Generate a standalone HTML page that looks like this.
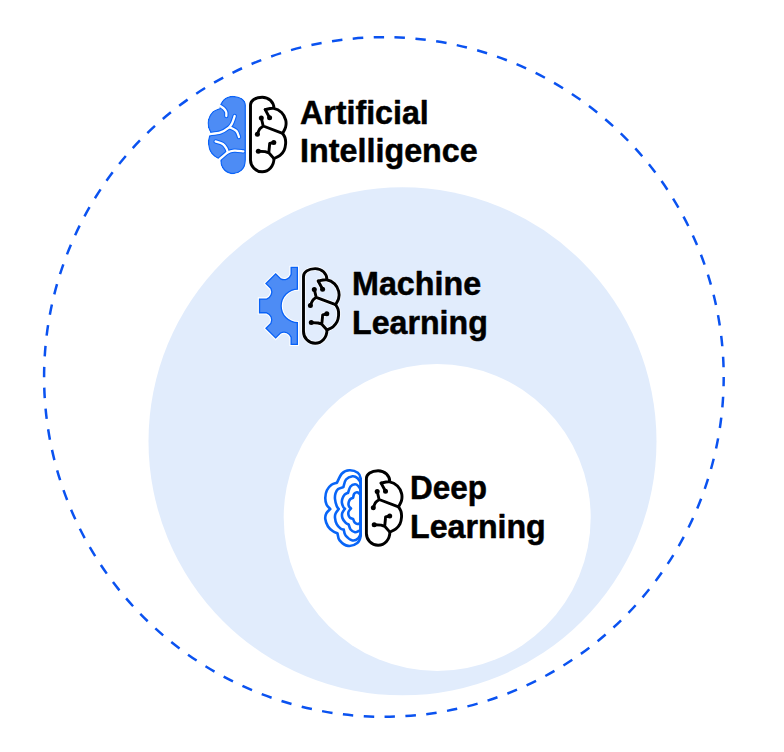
<!DOCTYPE html>
<html><head><meta charset="utf-8"><style>
html,body{margin:0;padding:0;background:#fff;width:784px;height:752px;overflow:hidden}
svg{display:block}
text{font-family:'Liberation Sans',sans-serif;font-weight:bold;font-size:33.3px;fill:#000;stroke:#000;stroke-width:0.5px;stroke-linejoin:round}
</style></head><body>
<svg width="784" height="752" viewBox="0 0 784 752">
<rect width="784" height="752" fill="#fff"/>
<circle cx="402.5" cy="441.3" r="254" fill="#e1ecfc"/>
<circle cx="437.2" cy="517.5" r="153.5" fill="#fff"/>
<circle cx="383.9" cy="377" r="339.8" fill="none" stroke="#0a52f0" stroke-width="2.5" stroke-dasharray="10.47 10.47" stroke-dashoffset="1.1"/>
<mask id="mAI" maskUnits="userSpaceOnUse" x="0" y="0" width="784" height="752"><path transform="translate(495.00 0) scale(-1 1)" d="M250.50 160.00 L250.50 105.00 C250.5 100.6 255.3 97.2 262.2 97.2 C268.6 97.2 273.8 101.6 274.0 109.0 C275.27 109.58 279.65 110.67 281.60 112.50 C283.55 114.33 285.03 117.55 285.70 120.00 C286.37 122.45 286.12 124.98 285.60 127.20 C285.08 129.42 283.10 132.28 282.60 133.30 C283.02 134.08 284.60 136.22 285.10 138.00 C285.60 139.78 285.77 141.95 285.60 144.00 C285.43 146.05 285.03 148.40 284.10 150.30 C283.17 152.20 281.68 154.02 280.00 155.40 C278.32 156.78 275.00 158.07 274.00 158.60 L272.85 158.7 A11.3 11.3 0 1 1 250.6 161.5 Z" fill="#fff" stroke="#fff" stroke-width="2.90" stroke-linejoin="round"/></mask><g mask="url(#mAI)"><path transform="translate(495.00 0) scale(-1 1)" d="M250.50 160.00 L250.50 105.00 C250.5 100.6 255.3 97.2 262.2 97.2 C268.6 97.2 273.8 101.6 274.0 109.0 C275.27 109.58 279.65 110.67 281.60 112.50 C283.55 114.33 285.03 117.55 285.70 120.00 C286.37 122.45 286.12 124.98 285.60 127.20 C285.08 129.42 283.10 132.28 282.60 133.30 C283.02 134.08 284.60 136.22 285.10 138.00 C285.60 139.78 285.77 141.95 285.60 144.00 C285.43 146.05 285.03 148.40 284.10 150.30 C283.17 152.20 281.68 154.02 280.00 155.40 C278.32 156.78 275.00 158.07 274.00 158.60 L272.85 158.7 A11.3 11.3 0 1 1 250.6 161.5 Z" fill="#0962f7" stroke="#0962f7" stroke-width="2.90" stroke-linejoin="round"/><path transform="translate(495.00 0) scale(-1 1)" d="M250.50 160.00 L250.50 105.00 C250.5 100.6 255.3 97.2 262.2 97.2 C268.6 97.2 273.8 101.6 274.0 109.0 C275.27 109.58 279.65 110.67 281.60 112.50 C283.55 114.33 285.03 117.55 285.70 120.00 C286.37 122.45 286.12 124.98 285.60 127.20 C285.08 129.42 283.10 132.28 282.60 133.30 C283.02 134.08 284.60 136.22 285.10 138.00 C285.60 139.78 285.77 141.95 285.60 144.00 C285.43 146.05 285.03 148.40 284.10 150.30 C283.17 152.20 281.68 154.02 280.00 155.40 C278.32 156.78 275.00 158.07 274.00 158.60 L272.85 158.7 A11.3 11.3 0 1 1 250.6 161.5 Z" fill="#4d8cf5" stroke="#4d8cf5" stroke-width="0.30" stroke-linejoin="round"/><path d="M220.30 106.00 C220.90 106.43 222.92 107.60 223.90 108.60 C224.88 109.60 225.80 110.77 226.20 112.00 C226.60 113.23 226.28 115.33 226.30 116.00 M234.70 116.00 C234.25 117.25 232.98 121.57 232.00 123.50 C231.02 125.43 230.70 126.12 228.80 127.60 C226.90 129.08 223.82 131.30 220.60 132.40 C217.38 133.50 211.35 133.90 209.50 134.20 M230.00 127.40 C231.05 127.98 234.80 129.30 236.30 130.90 C237.80 132.50 238.55 135.98 239.00 137.00 M215.60 141.40 C216.80 141.83 220.97 142.77 222.80 144.00 C224.63 145.23 225.78 147.40 226.60 148.80 C227.42 150.20 227.52 151.80 227.70 152.40 M218.80 160.00 C220.28 158.73 225.08 153.97 227.70 152.40 C230.32 150.83 231.90 150.78 234.50 150.60 C237.10 150.42 241.83 151.18 243.30 151.30" fill="none" stroke="#0962f7" stroke-width="4.4" stroke-linecap="round"/><path d="M220.30 106.00 C220.90 106.43 222.92 107.60 223.90 108.60 C224.88 109.60 225.80 110.77 226.20 112.00 C226.60 113.23 226.28 115.33 226.30 116.00 M234.70 116.00 C234.25 117.25 232.98 121.57 232.00 123.50 C231.02 125.43 230.70 126.12 228.80 127.60 C226.90 129.08 223.82 131.30 220.60 132.40 C217.38 133.50 211.35 133.90 209.50 134.20 M230.00 127.40 C231.05 127.98 234.80 129.30 236.30 130.90 C237.80 132.50 238.55 135.98 239.00 137.00 M215.60 141.40 C216.80 141.83 220.97 142.77 222.80 144.00 C224.63 145.23 225.78 147.40 226.60 148.80 C227.42 150.20 227.52 151.80 227.70 152.40 M218.80 160.00 C220.28 158.73 225.08 153.97 227.70 152.40 C230.32 150.83 231.90 150.78 234.50 150.60 C237.10 150.42 241.83 151.18 243.30 151.30" fill="none" stroke="#fff" stroke-width="2.3" stroke-linecap="round"/></g>

<defs><g id="bhh" fill="none" stroke="#fff" stroke-opacity="0.75" stroke-width="4.50" stroke-linecap="round" stroke-linejoin="round"><path d="M250.50 160.00 L250.50 105.00 C250.5 100.6 255.3 97.2 262.2 97.2 C268.8 97.2 273.9 102 273.9 108.2 M250.50 160.00 A11.7 11.7 0 0 0 262.2 171.8 C268.8 171.8 273.9 166.2 274.0 158.6 M265.20 109.60 C266.60 109.40 270.87 107.92 273.60 108.40 C276.33 108.88 279.58 110.57 281.60 112.50 C283.62 114.43 285.03 117.55 285.70 120.00 C286.37 122.45 286.12 124.98 285.60 127.20 C285.08 129.42 283.10 132.28 282.60 133.30 C283.02 134.08 284.60 136.22 285.10 138.00 C285.60 139.78 285.77 141.95 285.60 144.00 C285.43 146.05 285.03 148.40 284.10 150.30 C283.17 152.20 281.68 154.02 280.00 155.40 C278.32 156.78 275.00 158.07 274.00 158.60"/><path d="M265.20 109.60 L269.60 117.80 M261.30 118.00 L263.20 126.00 L282.60 133.30 M263.20 126.00 C262.60 126.53 260.57 127.83 259.60 129.20 C258.63 130.57 257.77 133.37 257.40 134.20 M273.80 142.40 L269.70 143.50 L268.80 152.80 L274.00 158.60 M258.30 151.20 L265.20 151.60 L268.80 152.80"/></g></defs><g id="bh" fill="none" stroke="#000" stroke-width="2.90" stroke-linecap="round" stroke-linejoin="round"><path d="M250.50 160.00 L250.50 105.00 C250.5 100.6 255.3 97.2 262.2 97.2 C268.8 97.2 273.9 102 273.9 108.2 M250.50 160.00 A11.7 11.7 0 0 0 262.2 171.8 C268.8 171.8 273.9 166.2 274.0 158.6 M265.20 109.60 C266.60 109.40 270.87 107.92 273.60 108.40 C276.33 108.88 279.58 110.57 281.60 112.50 C283.62 114.43 285.03 117.55 285.70 120.00 C286.37 122.45 286.12 124.98 285.60 127.20 C285.08 129.42 283.10 132.28 282.60 133.30 C283.02 134.08 284.60 136.22 285.10 138.00 C285.60 139.78 285.77 141.95 285.60 144.00 C285.43 146.05 285.03 148.40 284.10 150.30 C283.17 152.20 281.68 154.02 280.00 155.40 C278.32 156.78 275.00 158.07 274.00 158.60"/><path d="M265.20 109.60 L269.60 117.80 M261.30 118.00 L263.20 126.00 L282.60 133.30 M263.20 126.00 C262.60 126.53 260.57 127.83 259.60 129.20 C258.63 130.57 257.77 133.37 257.40 134.20 M273.80 142.40 L269.70 143.50 L268.80 152.80 L274.00 158.60 M258.30 151.20 L265.20 151.60 L268.80 152.80"/><circle cx="269.60" cy="117.80" r="2.5" fill="#000" stroke="none"/><circle cx="261.30" cy="118.00" r="2.5" fill="#000" stroke="none"/><circle cx="257.40" cy="134.20" r="2.5" fill="#000" stroke="none"/><circle cx="273.80" cy="142.40" r="2.5" fill="#000" stroke="none"/><circle cx="258.30" cy="151.20" r="2.5" fill="#000" stroke="none"/></g>
<path d="M298.00 266.80 L290.50 266.80 L290.50 274.30 A6.80 6.80 0 0 1 280.96 278.25 L275.66 272.95 L265.05 283.56 L270.35 288.86 A6.80 6.80 0 0 1 266.40 298.40 L258.90 298.40 L258.90 313.40 L266.40 313.40 A6.80 6.80 0 0 1 270.35 322.94 L265.05 328.24 L275.66 338.85 L280.96 333.55 A6.80 6.80 0 0 1 290.50 337.50 L290.50 345.00 L298.00 345.00 L298.00 322.10 A16.2 16.2 0 0 1 298.00 289.70 Z" fill="none" stroke="#fff" stroke-width="2.2"/><mask id="mG" maskUnits="userSpaceOnUse" x="0" y="0" width="784" height="752"><path d="M298.00 266.80 L290.50 266.80 L290.50 274.30 A6.80 6.80 0 0 1 280.96 278.25 L275.66 272.95 L265.05 283.56 L270.35 288.86 A6.80 6.80 0 0 1 266.40 298.40 L258.90 298.40 L258.90 313.40 L266.40 313.40 A6.80 6.80 0 0 1 270.35 322.94 L265.05 328.24 L275.66 338.85 L280.96 333.55 A6.80 6.80 0 0 1 290.50 337.50 L290.50 345.00 L298.00 345.00 L298.00 322.10 A16.2 16.2 0 0 1 298.00 289.70 Z" fill="#fff"/></mask><path d="M298.00 266.80 L290.50 266.80 L290.50 274.30 A6.80 6.80 0 0 1 280.96 278.25 L275.66 272.95 L265.05 283.56 L270.35 288.86 A6.80 6.80 0 0 1 266.40 298.40 L258.90 298.40 L258.90 313.40 L266.40 313.40 A6.80 6.80 0 0 1 270.35 322.94 L265.05 328.24 L275.66 338.85 L280.96 333.55 A6.80 6.80 0 0 1 290.50 337.50 L290.50 345.00 L298.00 345.00 L298.00 322.10 A16.2 16.2 0 0 1 298.00 289.70 Z" fill="#4d8cf5" stroke="#0962f7" stroke-width="2.6" mask="url(#mG)"/>
<use href="#bhh" transform="translate(53.0 171.4)"/><use href="#bh" transform="translate(53.0 171.4)"/>
<g fill="none" stroke="#0865f7" stroke-width="2.6" stroke-linejoin="round" stroke-linecap="round"><path d="M360.70 536.00 L360.70 478.50 C360.22 475.55 359.68 474.17 357.80 472.80 C355.92 471.43 352.03 470.18 349.40 470.30 C346.77 470.42 344.08 471.42 342.00 473.50 C339.92 475.58 337.75 481.25 336.90 482.80 C336.00 483.13 333.17 483.55 331.50 484.80 C329.83 486.05 327.93 488.13 326.90 490.30 C325.87 492.47 325.35 495.38 325.30 497.80 C325.25 500.22 325.77 502.93 326.60 504.80 C327.43 506.67 329.68 508.30 330.30 509.00 C329.63 509.73 327.13 511.73 326.30 513.40 C325.47 515.07 325.02 516.82 325.30 519.00 C325.58 521.18 326.72 524.45 328.00 526.50 C329.28 528.55 331.42 530.15 333.00 531.30 C334.58 532.45 336.75 533.05 337.50 533.40 C337.85 534.55 337.83 538.22 339.60 540.30 C341.37 542.38 345.15 545.45 348.10 545.90 C351.05 546.35 355.20 544.65 357.30 543.00 C359.40 541.35 360.13 539.17 360.70 536.00"/><path d="M360.70 533.00 L360.70 484.00 C360.18 481.05 358.97 479.58 357.60 478.30 C356.23 477.02 354.43 476.10 352.50 476.30 C350.57 476.50 347.52 477.70 346.00 479.50 C344.48 481.30 343.83 485.83 343.40 487.10 C342.52 487.42 339.42 487.95 338.10 489.00 C336.78 490.05 336.02 491.73 335.50 493.40 C334.98 495.07 334.80 496.90 335.00 499.00 C335.20 501.10 336.07 504.33 336.70 506.00 C337.32 507.67 338.41 508.50 338.75 509.00 C338.23 509.73 336.23 511.93 335.60 513.40 C334.98 514.87 334.82 516.00 335.00 517.80 C335.18 519.60 335.78 522.42 336.70 524.20 C337.62 525.98 339.32 527.60 340.50 528.50 C341.68 529.40 343.21 529.42 343.75 529.60 C344.06 530.58 344.14 533.70 345.60 535.50 C347.06 537.30 350.38 539.95 352.50 540.40 C354.62 540.85 356.93 539.43 358.30 538.20 C359.67 536.97 360.30 535.87 360.70 533.00"/><path d="M360.70 529.00 L360.70 490.50 C360.28 487.75 359.15 487.05 358.20 486.00 C357.25 484.95 356.28 484.12 355.00 484.20 C353.72 484.28 351.65 485.07 350.50 486.50 C349.35 487.93 348.50 491.71 348.10 492.75 C347.52 493.06 345.55 493.62 344.60 494.60 C343.65 495.58 342.85 497.24 342.40 498.60 C341.95 499.96 341.75 501.35 341.90 502.75 C342.05 504.15 342.78 506.01 343.30 507.00 C343.82 507.99 344.72 508.42 345.00 508.70 C344.53 509.45 342.62 511.62 342.20 513.20 C341.78 514.78 341.95 516.63 342.50 518.20 C343.05 519.77 344.46 521.53 345.50 522.60 C346.54 523.67 348.21 524.27 348.75 524.60 C349.06 525.42 349.56 528.23 350.60 529.50 C351.64 530.77 353.68 531.95 355.00 532.20 C356.32 532.45 357.55 531.53 358.50 531.00 C359.45 530.47 360.33 531.33 360.70 529.00"/><path d="M360.70 522.00 L360.70 496.00 C360.38 493.53 359.43 493.82 358.80 493.20 C358.17 492.58 357.67 492.20 356.90 492.30 C356.13 492.40 354.83 492.89 354.20 493.80 C353.57 494.71 353.28 497.09 353.10 497.75 C352.62 497.99 350.90 498.56 350.20 499.20 C349.50 499.84 349.18 500.70 348.90 501.60 C348.62 502.50 348.42 503.70 348.50 504.60 C348.58 505.50 348.98 506.37 349.40 507.00 C349.82 507.63 350.73 508.17 351.00 508.40 C350.60 508.93 349.02 510.50 348.60 511.60 C348.18 512.70 348.27 513.97 348.50 515.00 C348.73 516.03 349.23 517.13 350.00 517.80 C350.77 518.47 352.58 518.80 353.10 519.00 C353.35 519.57 353.90 521.57 354.60 522.40 C355.30 523.23 356.48 523.82 357.30 524.00 C358.12 524.18 358.93 523.83 359.50 523.50 C360.07 523.17 360.50 524.25 360.70 522.00"/></g>
<use href="#bh" transform="translate(115.9 373.5)"/>
<text transform="translate(300.00 123.70) scale(0.9670 1)">Artificial</text>
<text transform="translate(300.10 161.90) scale(0.9700 1)">Intelligence</text>
<text transform="translate(352.00 295.00) scale(0.9700 1)">Machine</text>
<text transform="translate(352.10 333.50) scale(0.9650 1)">Learning</text>
<text transform="translate(410.00 498.90) scale(0.9460 1)">Deep</text>
<text transform="translate(410.00 537.50) scale(0.9660 1)">Learning</text>
</svg>
</body></html>
